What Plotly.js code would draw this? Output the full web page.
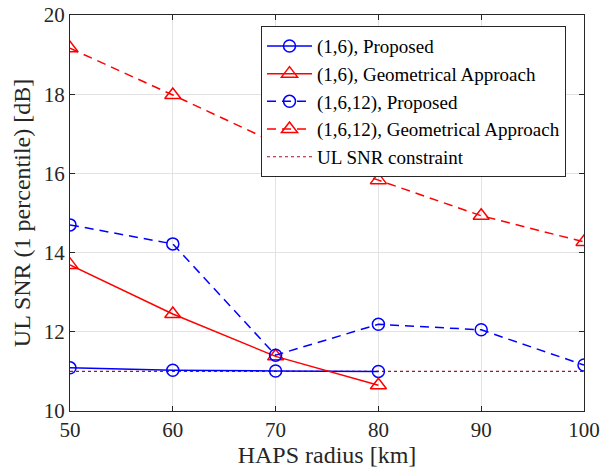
<!DOCTYPE html>
<html>
<head>
<meta charset="utf-8">
<script src="https://cdn.plot.ly/plotly-3.0.1.min.js"></script>
<style>html,body{margin:0;padding:0;background:#fff;}#chart{width:601px;height:476px;}</style>
</head>
<body>
<div id="chart"></div>
<script>
const radius = [50, 60, 70, 80, 90, 100];
const prop16 = [11.09, 11.03, 11.01, 11.0];
const geo16 = [13.69, 12.45, 11.38, 10.65];
const prop1612 = [14.70, 14.22, 11.41, 12.19, 12.05, 11.16];
const geo1612 = [19.16, 17.98, 16.77, 15.83, 14.93, 14.27];
const constraint = [11, 11, 11, 11, 11, 11];
const names = ["(1,6), Proposed", "(1,6), Geometrical Approach", "(1,6,12), Proposed", "(1,6,12), Geometrical Approach", "UL SNR constraint"];

const font = "Liberation Serif, Times New Roman, serif";
const dash = "9px,6px";
const traces = [
  {x: radius.slice(0, 4), y: prop16, name: names[0], mode: "lines+markers", legendrank: 1,
   line: {color: "#0000ff", width: 1.5}, marker: {symbol: "circle-open", size: 12, color: "#0000ff", line: {width: 1.5}}},
  {x: radius.slice(0, 4), y: geo16, name: names[1], mode: "lines+markers", legendrank: 2,
   line: {color: "#ff0000", width: 1.5}, marker: {symbol: "triangle-up-open", size: 14, color: "#ff0000", line: {width: 1.5}}},
  {x: radius, y: prop1612, name: names[2], mode: "lines+markers", legendrank: 3,
   line: {color: "#0000ff", width: 1.5, dash: dash}, marker: {symbol: "circle-open", size: 12, color: "#0000ff", line: {width: 1.5}}},
  {x: radius, y: geo1612, name: names[3], mode: "lines+markers", legendrank: 4,
   line: {color: "#ff0000", width: 1.5, dash: dash}, marker: {symbol: "triangle-up-open", size: 14, color: "#ff0000", line: {width: 1.5}}},
  {x: radius, y: constraint, name: names[4], mode: "lines", legendrank: 5,
   line: {color: "#A2142F", width: 1.2, dash: "dot"}}
];
const ordered = [traces[4], traces[0], traces[1], traces[2], traces[3]];

const layout = {
  width: 601, height: 476,
  margin: {l: 70, r: 17, t: 15, b: 65},
  paper_bgcolor: "#fff", plot_bgcolor: "#fff",
  font: {family: font, size: 21, color: "#262626"},
  showlegend: true,
  legend: {
    x: 0.965, xanchor: "right", y: 0.972, yanchor: "top",
    bgcolor: "#fff", bordercolor: "#262626", borderwidth: 1,
    font: {family: font, size: 19, color: "#000"},
    traceorder: "normal", itemwidth: 45,
    tracegroupgap: 0
  },
  xaxis: {
    range: [50, 100], tickvals: radius, ticktext: radius.map(String),
    showgrid: true, gridcolor: "#e3e3e3", gridwidth: 1,
    showline: true, linecolor: "#262626", linewidth: 1, mirror: "ticks",
    ticks: "inside", ticklen: 5, tickcolor: "#262626",
    zeroline: false, tickfont: {family: font, size: 21},
    title: {text: "HAPS radius [km]", font: {family: font, size: 24}, standoff: 4}
  },
  yaxis: {
    range: [10, 20], tickvals: [10, 12, 14, 16, 18, 20],
    showgrid: true, gridcolor: "#e3e3e3", gridwidth: 1,
    showline: true, linecolor: "#262626", linewidth: 1, mirror: "ticks",
    ticks: "inside", ticklen: 5, tickcolor: "#262626",
    zeroline: false, tickfont: {family: font, size: 21},
    title: {text: "UL SNR (1 percentile) [dB]", font: {family: font, size: 24}, standoff: 6}
  }
};

Plotly.newPlot("chart", ordered, layout, {displayModeBar: false, staticPlot: true});
</script>
</body>
</html>
